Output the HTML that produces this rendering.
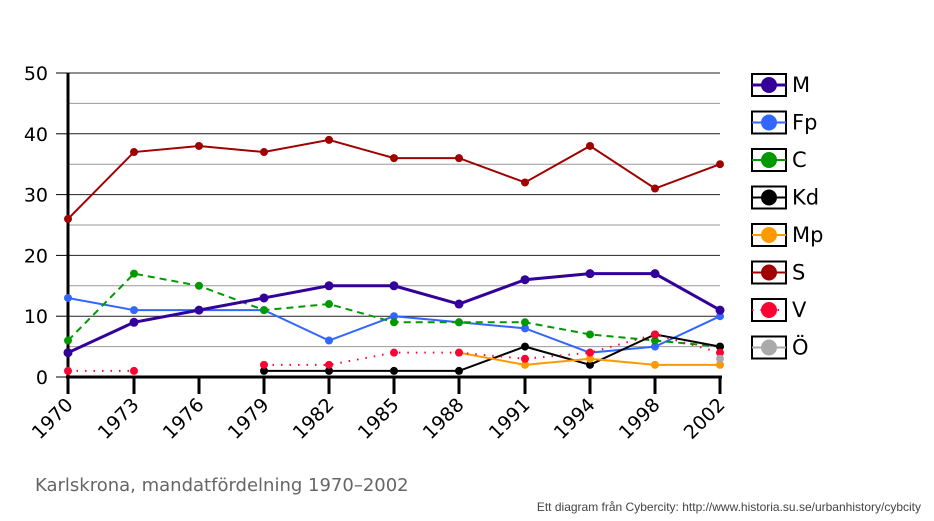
<!DOCTYPE html>
<html><head><meta charset="utf-8"><style>
html,body{margin:0;padding:0;background:#fff;width:934px;height:521px;overflow:hidden}
svg text{font-family:"DejaVu Sans","Liberation Sans",sans-serif}
</style></head><body>
<svg id="s" width="934" height="521" xmlns="http://www.w3.org/2000/svg"></svg>
<script>
var s=document.getElementById('s'),h='';
var X=[68,134,199,264,329,394,459,525,590,655,720],yrs=[1970,1973,1976,1979,1982,1985,1988,1991,1994,1998,2002];
function Y(v){return 377-v*6.08;}
for(var g=5;g<=50;g+=5){h+='<line x1="68" x2="720" y1="'+Y(g)+'" y2="'+Y(g)+'" stroke="'+(g%10?'#999':'#222')+'" stroke-width="1"/>';}
for(var g=0;g<=50;g+=10){h+='<line x1="56" x2="68" y1="'+Y(g)+'" y2="'+Y(g)+'" stroke="#000" stroke-width="1"/><text x="48" y="'+(Y(g)+7)+'" font-size="19" text-anchor="end">'+g+'</text>';}
h+='<line x1="68" x2="68" y1="73" y2="379" stroke="#000" stroke-width="3"/><line x1="66" x2="722" y1="377" y2="377" stroke="#000" stroke-width="3"/>';
X.forEach(function(x,i){h+='<line x1="'+x+'" x2="'+x+'" y1="377" y2="394" stroke="#000" stroke-width="3"/><text font-size="19" text-anchor="end" transform="translate('+(x+6)+',406) rotate(-45)">'+yrs[i]+'</text>';});
var S=[
['#a00000',2,'',[26,37,38,37,39,36,36,32,38,31,35]],
['#3366ff',2,'',[13,11,11,11,6,10,9,8,4,5,10]],
['#009900',2,'7,5',[6,17,15,11,12,9,9,9,7,6,5]],
['#000',2,'',[null,null,null,1,1,1,1,5,2,7,5]],
['#ff9900',2,'',[null,null,null,null,null,null,4,2,3,2,2]],
['#330099',3,'',[4,9,11,13,15,15,12,16,17,17,11]],
['#ff0033',2,'1.5,7',[1,1,null,2,2,4,4,3,4,7,4]],
['#aaaaaa',2,'',[null,null,null,null,null,null,null,null,null,null,3]]];
S.forEach(function(o){var d='',pen=false;o[3].forEach(function(v,i){if(v==null){pen=false;return;}d+=(pen?'L':'M')+X[i]+' '+Y(v)+' ';pen=true;});
h+='<path d="'+d+'" fill="none" stroke="'+o[0]+'" stroke-width="'+o[1]+'"'+(o[2]?' stroke-dasharray="'+o[2]+'"':'')+'/>';
o[3].forEach(function(v,i){if(v!=null)h+='<circle cx="'+X[i]+'" cy="'+Y(v)+'" r="'+(o[0]=='#330099'?4.5:4)+'" fill="'+o[0]+'"/>';});});
var L=[['M','#330099',3,''],['Fp','#3366ff',2,''],['C','#009900',2,''],['Kd','#000',2,''],['Mp','#ff9900',2,''],['S','#a00000',2,''],['V','#ff0033',2,'1.5,7'],['Ö','#aaaaaa',2,'']];
L.forEach(function(l,i){var cy=85+i*37.5;h+='<rect x="752" y="'+(cy-11)+'" width="34" height="22" fill="#fff" stroke="#000" stroke-width="2"/><line x1="752" x2="786" y1="'+cy+'" y2="'+cy+'" stroke="'+l[1]+'" stroke-width="'+l[2]+'"'+(l[3]?' stroke-dasharray="'+l[3]+'"':'')+'/><circle cx="769" cy="'+cy+'" r="8" fill="'+l[1]+'"/><text x="792" y="'+(cy+7)+'" font-size="21">'+l[0]+'</text>';});
h+='<text x="35" y="491" font-size="18" fill="#666">Karlskrona, mandatfördelning 1970–2002</text>';
h+='<text x="921" y="511" font-size="12" fill="#444" text-anchor="end" style="font-family:\'Liberation Sans\',sans-serif">Ett diagram från Cybercity: http://www.historia.su.se/urbanhistory/cybcity</text>';
s.innerHTML=h;
</script>
</body></html>
